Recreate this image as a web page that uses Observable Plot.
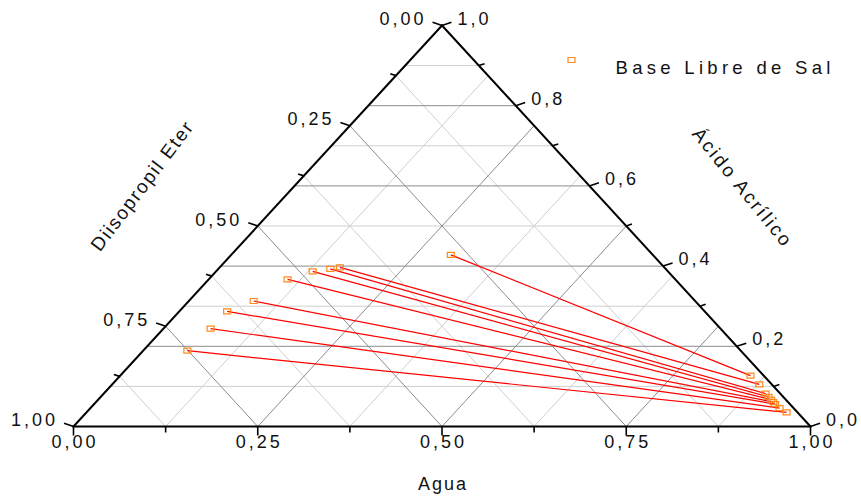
<!DOCTYPE html>
<html>
<head>
<meta charset="utf-8">
<script src="https://cdn.jsdelivr.net/npm/d3@7"></script>
<script src="https://cdn.jsdelivr.net/npm/@observablehq/plot@0.6"></script>
<style>
  html, body { margin: 0; padding: 0; background: #fff; }
  #chart svg { display: block; }
</style>
</head>
<body>
<div id="chart"></div>
<script>
// Tie-line end points, mass fractions (agua, ácido acrílico); éter = 1 - agua - ácido
// Organic (ether-rich) phase
const orgAgua  = [0.298, 0.163, 0.152, 0.131, 0.107, 0.088, 0.065, 0.064, 0.060];
const orgAcido = [0.428, 0.397, 0.393, 0.387, 0.367, 0.313, 0.287, 0.244, 0.189];
// Aqueous phase
const aqAgua   = [0.855, 0.878, 0.898, 0.906, 0.913, 0.919, 0.924, 0.935, 0.950];
const aqAcido  = [0.127, 0.105, 0.082, 0.074, 0.067, 0.061, 0.056, 0.046, 0.035];

// Axis ticks and labels
const aguaTicks   = [0, 0.25, 0.5, 0.75, 1];
const aguaLabels  = ["0,00", "0,25", "0,50", "0,75", "1,00"];
const eterTicks   = [0, 0.25, 0.5, 0.75, 1];
const eterLabels  = ["0,00", "0,25", "0,50", "0,75", "1,00"];
const acidoTicks  = [0, 0.2, 0.4, 0.6, 0.8, 1];
const acidoLabels = ["0,0", "0,2", "0,4", "0,6", "0,8", "1,0"];

const aguaTitle  = "Agua";
const eterTitle  = "Diisopropil Eter";
const acidoTitle = "Ácido Acrílico";
const legendLabel = "Base Libre de Sal";

// ---- layout ----
const W = 861, H = 499;
const XR = [73, 810], YR = [426, 25];
const FONT = "'Liberation Sans', Arial, Helvetica, sans-serif";
const ORANGE = "#ff8a1c";

// ternary -> cartesian (data units): agua runs along the base, ácido up to the apex
const tx = (agua, acido) => agua + acido / 2;
const ty = (agua, acido) => acido;
// pixel offsets -> data offsets for the fixed ranges above
const ox = px => px / (XR[1] - XR[0]);
const oy = px => -px / (YR[0] - YR[1]);

const r3 = v => Math.round(v * 1000) / 1000;
const steps = (step, n) => d3.range(0, n + 1).map(i => r3(i * step));

// grid lines
const grid = [];
for (const c of steps(0.1, 10).slice(1, -1)) {       // constant ácido
  grid.push({x1: tx(0, c), y1: ty(0, c), x2: tx(1 - c, c), y2: ty(1 - c, c), major: Math.round(c * 10) % 2 === 0});
}
for (const a of steps(0.125, 8).slice(1, -1)) {      // constant agua
  grid.push({x1: tx(a, 0), y1: 0, x2: tx(a, 1 - a), y2: ty(a, 1 - a), major: Math.round(a * 8) % 2 === 0});
}
for (const e of steps(0.125, 8).slice(1, -1)) {      // constant éter
  grid.push({x1: tx(1 - e, 0), y1: 0, x2: tx(0, 1 - e), y2: ty(0, 1 - e), major: Math.round(e * 8) % 2 === 0});
}

// triangle frame
const frame = [
  {x1: tx(0, 0), y1: ty(0, 0), x2: tx(1, 0), y2: ty(1, 0)},
  {x1: tx(1, 0), y1: ty(1, 0), x2: tx(0, 1), y2: ty(0, 1)},
  {x1: tx(0, 1), y1: ty(0, 1), x2: tx(0, 0), y2: ty(0, 0)}
];

// axis ticks
const L_DIR = [-0.945, -0.326], R_DIR = [0.949, -0.316];
const ticks = [];
for (const a of steps(0.125, 8)) {
  const len = Math.round(a * 8) % 2 === 0 ? 9 : 6;
  ticks.push({x1: tx(a, 0), y1: 0, x2: tx(a, 0), y2: oy(len)});
}
for (const e of steps(0.125, 8)) {
  const len = Math.round(e * 8) % 2 === 0 ? 10 : 6;
  const x = tx(0, 1 - e), y = ty(0, 1 - e);
  ticks.push({x1: x, y1: y, x2: x + ox(L_DIR[0] * len), y2: y + oy(L_DIR[1] * len)});
}
for (const c of steps(0.1, 10)) {
  const len = Math.round(c * 10) % 2 === 0 ? 10 : 6;
  const x = tx(1 - c, c), y = ty(1 - c, c);
  ticks.push({x1: x, y1: y, x2: x + ox(R_DIR[0] * len), y2: y + oy(R_DIR[1] * len)});
}

// tie lines
const ties = orgAgua.map((_, i) => ({
  x1: tx(orgAgua[i], orgAcido[i]), y1: ty(orgAgua[i], orgAcido[i]),
  x2: tx(aqAgua[i], aqAcido[i]),   y2: ty(aqAgua[i], aqAcido[i])
}));
const points = ties.flatMap(t => [{x: t.x1, y: t.y1}, {x: t.x2, y: t.y2}]);

// small open rectangle marker
const rectSymbol = {draw(ctx) { ctx.rect(-3.5, -2.5, 7, 5); }};

// tick labels
const aguaText = aguaTicks.map((a, i) => ({x: tx(a, 0), y: 0, label: aguaLabels[i]}));
const eterText = eterTicks.map((e, i) => {
  const x = tx(0, 1 - e), y = ty(0, 1 - e);
  return {x: x + ox(L_DIR[0] * 10), y: y + oy(L_DIR[1] * 10), label: eterLabels[i]};
});
const acidoText = acidoTicks.map((c, i) => {
  const x = tx(1 - c, c), y = ty(1 - c, c);
  return {x: x + ox(R_DIR[0] * 10), y: y + oy(R_DIR[1] * 10), label: acidoLabels[i]};
});

const plot = Plot.plot({
  width: W, height: H,
  margin: 0,
  x: {domain: [0, 1], range: XR, axis: null},
  y: {domain: [0, 1], range: YR, axis: null},
  style: {fontFamily: FONT, background: "#fff", color: "#111"},
  marks: [
    Plot.link(grid.filter(d => !d.major), {x1: "x1", y1: "y1", x2: "x2", y2: "y2", stroke: "#cfcfcf", strokeWidth: 1}),
    Plot.link(grid.filter(d => d.major), {x1: "x1", y1: "y1", x2: "x2", y2: "y2", stroke: "#8c8c8c", strokeWidth: 1}),
    Plot.link(frame, {x1: "x1", y1: "y1", x2: "x2", y2: "y2", stroke: "#000", strokeWidth: 2, strokeLinecap: "square"}),
    Plot.link(ticks, {x1: "x1", y1: "y1", x2: "x2", y2: "y2", stroke: "#000", strokeWidth: 1.6}),
    Plot.link(ties, {x1: "x1", y1: "y1", x2: "x2", y2: "y2", stroke: "#ff0000", strokeWidth: 1.2}),
    Plot.dot(points, {x: "x", y: "y", symbol: rectSymbol, stroke: ORANGE, fill: "none", strokeWidth: 1.2}),

    Plot.text(aguaText, {x: "x", y: "y", text: "label", dx: 1.5, dy: 16, fontSize: 18, fill: "#111"}),
    Plot.text(eterText, {x: "x", y: "y", text: "label", dx: -6, dy: -3, textAnchor: "end", fontSize: 18, fill: "#111"}),
    Plot.text(acidoText, {x: "x", y: "y", text: "label", dx: 6, dy: -3.5, textAnchor: "start", fontSize: 18, fill: "#111"}),

    Plot.text([aguaTitle], {x: tx(0.5, 0), y: 0, dx: 1, dy: 58, fontSize: 18, fill: "#111"}),
    Plot.text([eterTitle], {x: tx(0, 0.6), y: ty(0, 0.6), dx: -152, dy: 0, rotate: -53, fontSize: 19, fill: "#111"}),
    Plot.text([acidoTitle], {x: tx(0.4, 0.6), y: ty(0.4, 0.6), dx: 153, dy: 2, rotate: 51, fontSize: 19, fill: "#111"}),

    Plot.dot([legendLabel], {frameAnchor: "top-left", dx: 571, dy: 59.5, symbol: rectSymbol, stroke: ORANGE, fill: "none", strokeWidth: 1.2}),
    Plot.text([legendLabel], {frameAnchor: "top-left", dx: 615, dy: 60, textAnchor: "start", fontSize: 18.5, fill: "#111"})
  ]
});

// letter spacing per text group
const tickSet = new Set([...aguaLabels, ...eterLabels, ...acidoLabels]);
d3.select(plot).selectAll("text").each(function () {
  const t = this.textContent;
  let ls = null;
  if (tickSet.has(t)) ls = 3;
  else if (t === legendLabel) ls = 4.3;
  else if (t === aguaTitle) ls = 2;
  else if (t === eterTitle) ls = 1.8;
  else if (t === acidoTitle) ls = 2.4;
  if (ls != null) d3.select(this).attr("letter-spacing", ls + "px");
});

document.getElementById("chart").append(plot);
</script>
</body>
</html>
